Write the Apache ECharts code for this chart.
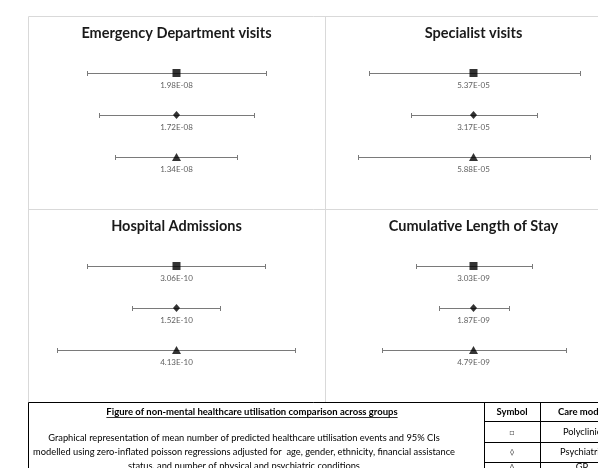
<!DOCTYPE html>
<html>
<head>
<meta charset="utf-8">
<script src="https://cdn.jsdelivr.net/npm/echarts@6/dist/echarts.min.js"></script>
<style>html,body{margin:0;padding:0;background:#fff}#c{width:598px;height:468px}</style>
</head>
<body>
<div id="c"></div>
<script>
// ---- data ----
const panelTitles = ['Emergency Department visits', 'Specialist visits', 'Hospital Admissions', 'Cumulative Length of Stay'];
const careModels = ['Polyclinic', 'Psychiatric', 'GP'];
const symbolsText = ['\u25A1', '\u25CA', '\u0394'];
// mean predicted values (labels)
const edMeans = ['1.98E-08', '1.72E-08', '1.34E-08'];
const specMeans = ['5.37E-05', '3.17E-05', '5.88E-05'];
const hospMeans = ['3.06E-10', '1.52E-10', '4.13E-10'];
const losMeans = ['3.03E-09', '1.87E-09', '4.79E-09'];
// 95% CI bounds relative to the mean (relative scale, mean = 0)
const edLower = [-90, -78, -62];
const edUpper = [90, 78, 61];
const specLower = [-106, -63, -117];
const specUpper = [108, 64, 118];
const hospLower = [-90, -45, -121];
const hospUpper = [89, 44, 120];
const losLower = [-58, -35, -92];
const losUpper = [59, 36, 93];
const captionTitle = 'Figure of non-mental healthcare utilisation comparison across groups';
const captionLines = [
  'Graphical representation of mean number of predicted healthcare utilisation events and 95% CIs',
  'modelled using zero-inflated poisson regressions adjusted for  age, gender, ethnicity, financial assistance',
  'status, and number of physical and psychiatric conditions'
];
const tableHeaders = ['Symbol', 'Care model'];

const panels = [
  { means: edMeans, lower: edLower, upper: edUpper },
  { means: specMeans, lower: specLower, upper: specUpper },
  { means: hospMeans, lower: hospLower, upper: hospUpper },
  { means: losMeans, lower: losLower, upper: losUpper }
];

// ---- layout ----
const FONT = 'Lato, "Noto Sans", sans-serif';
const PL = [28, 325], PT = [16, 209], PW = 297;
const CW = 598;
const markerShapes = ['rect', 'diamond', 'triangle'];
const markerSizes = [[8, 8], [7, 8], [9, 8]];

const chart = echarts.init(document.getElementById('c'), null, { renderer: 'canvas' });

const G = '#d9d9d9';
const graphics = [];
const grids = [], xAxes = [], yAxes = [], series = [];
panels.forEach((p, i) => {
  const left = PL[i % 2], top = PT[Math.floor(i / 2)];
  // visible width (right column is cut by the page edge)
  const visW = Math.min(PW, CW - left);
  const pxPerUnit = PW / 300;
  const xMax = (visW - PW / 2) / pxPerUnit;
  grids.push({ left: left, top: top + 36, width: visW, height: 126 });
  xAxes.push({ type: 'value', gridIndex: i, min: -150, max: xMax, show: false });
  yAxes.push({ type: 'category', gridIndex: i, data: careModels, inverse: true, show: false });
  graphics.push({
    type: 'text', x: left + PW / 2, y: top + 17,
    style: { text: panelTitles[i], font: 'bold 14.5px ' + FONT, fill: '#1a1a1a', align: 'center', verticalAlign: 'middle' }
  });
  series.push({
    type: 'custom', xAxisIndex: i, yAxisIndex: i,
    data: careModels.map((c, k) => [p.lower[k], p.upper[k], c]),
    encode: { x: [0, 1], y: 2 },
    renderItem: function (params, api) {
      const a = api.coord([api.value(0), api.value(2)]);
      const b = api.coord([api.value(1), api.value(2)]);
      const y = Math.round(a[1]) + 0.5;
      const x1 = Math.round(a[0]) + 0.5, x2 = Math.round(b[0]) + 0.5;
      const st = { stroke: '#7a7a7a', lineWidth: 1 };
      return { type: 'group', children: [
        { type: 'line', shape: { x1: x1, y1: y, x2: x2, y2: y }, style: st },
        { type: 'line', shape: { x1: x1, y1: y - 2.5, x2: x1, y2: y + 2.5 }, style: st },
        { type: 'line', shape: { x1: x2, y1: y - 2.5, x2: x2, y2: y + 2.5 }, style: st }
      ] };
    },
    clip: false, silent: true, z: 2
  });
  series.push({
    type: 'scatter', xAxisIndex: i, yAxisIndex: i,
    data: careModels.map((c, k) => ({
      value: [0, c], symbol: markerShapes[k], symbolSize: markerSizes[k],
      label: { formatter: p.means[k] }
    })),
    itemStyle: { color: '#000' },
    label: { show: true, position: 'bottom', distance: 4, fontFamily: FONT, fontSize: 8, color: '#333' },
    silent: true, z: 3
  });
});

// measure for underline
const ctx = document.createElement('canvas').getContext('2d');
const capFont = 'bold 9.5px ' + FONT;
ctx.font = capFont;
const capW = ctx.measureText(captionTitle).width;

graphics.push(
  // panel borders
  { type: 'line', shape: { x1: 28.5, y1: 16.5, x2: 598, y2: 16.5 }, style: { stroke: G, lineWidth: 1 } },
  { type: 'line', shape: { x1: 28.5, y1: 16.5, x2: 28.5, y2: 402 }, style: { stroke: G, lineWidth: 1 } },
  { type: 'line', shape: { x1: 325.5, y1: 16.5, x2: 325.5, y2: 402 }, style: { stroke: G, lineWidth: 1 } },
  { type: 'line', shape: { x1: 28.5, y1: 209.5, x2: 598, y2: 209.5 }, style: { stroke: G, lineWidth: 1 } },
  // table
  { type: 'rect', shape: { x: 28.5, y: 402.5, width: 600, height: 80 }, style: { fill: '#fff', stroke: '#000', lineWidth: 1 } },
  { type: 'line', shape: { x1: 484.5, y1: 402.5, x2: 484.5, y2: 470 }, style: { stroke: '#000', lineWidth: 1 } },
  { type: 'line', shape: { x1: 540.5, y1: 402.5, x2: 540.5, y2: 470 }, style: { stroke: '#000', lineWidth: 1 } },
  { type: 'line', shape: { x1: 484.5, y1: 421.5, x2: 600, y2: 421.5 }, style: { stroke: '#000', lineWidth: 1 } },
  { type: 'line', shape: { x1: 484.5, y1: 442.5, x2: 600, y2: 442.5 }, style: { stroke: '#000', lineWidth: 1 } },
  { type: 'line', shape: { x1: 484.5, y1: 462.5, x2: 600, y2: 462.5 }, style: { stroke: '#000', lineWidth: 1 } },
  { type: 'text', x: 252, y: 412, style: { text: captionTitle, font: capFont, fill: '#000', align: 'center', verticalAlign: 'middle' } },
  { type: 'line', shape: { x1: 252 - capW / 2, y1: 417.5, x2: 252 + capW / 2, y2: 417.5 }, style: { stroke: '#000', lineWidth: 0.8 } },
  { type: 'text', x: 512, y: 412, style: { text: tableHeaders[0], font: 'bold 9.5px ' + FONT, fill: '#000', align: 'center', verticalAlign: 'middle' } },
  { type: 'text', x: 582, y: 412, style: { text: tableHeaders[1], font: 'bold 9.5px ' + FONT, fill: '#000', align: 'center', verticalAlign: 'middle' } }
);
captionLines.forEach((t, k) => {
  graphics.push({ type: 'text', x: 244, y: 438 + k * 14, style: { text: t, font: '9.3px ' + FONT, fill: '#000', align: 'center', verticalAlign: 'middle' } });
});
const rowY = [432, 452, 467];
careModels.forEach((c, k) => {
  graphics.push({ type: 'text', x: 512, y: rowY[k], style: { text: symbolsText[k], font: '8px ' + FONT, fill: '#555', align: 'center', verticalAlign: 'middle' } });
  graphics.push({ type: 'text', x: 582, y: rowY[k], style: { text: c, font: '9.3px ' + FONT, fill: '#000', align: 'center', verticalAlign: 'middle' } });
});

chart.setOption({
  animation: false,
  grid: grids,
  xAxis: xAxes,
  yAxis: yAxes,
  series: series,
  graphic: { elements: graphics }
});
</script>
</body>
</html>
